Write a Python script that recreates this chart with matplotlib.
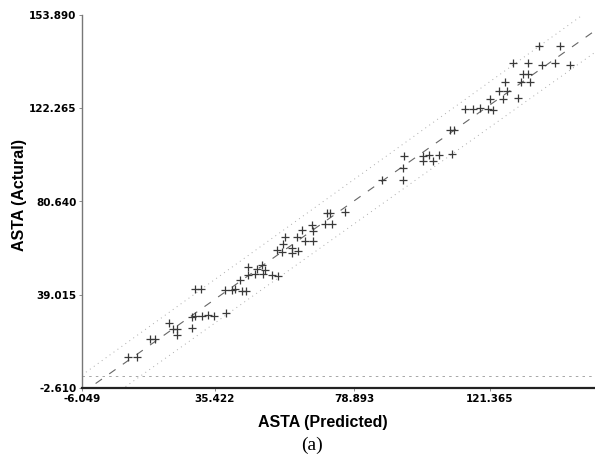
import numpy as np
import matplotlib
matplotlib.use("Agg")
import matplotlib.pyplot as plt

predicted = [8.41, 11.03, 15.19, 16.75, 21.12, 22.46, 23.53, 23.53, 28.21, 28.21,
             29.24, 31.33, 33.39, 35.27, 38.83, 29.24, 31.11, 38.61, 40.70, 41.73,
             43.83, 45.07, 43.29, 45.89, 48.51, 50.07, 51.10, 45.89, 47.98, 50.57,
             53.19, 55.26, 54.76, 56.32, 59.44, 59.44, 61.50, 56.82, 57.35, 61.00,
             62.56, 63.59, 66.19, 65.69, 66.19, 69.84, 71.40, 72.12, 76.09, 70.37,
             87.55, 94.11, 94.29, 94.51, 100.35, 100.54, 102.41, 103.66, 105.44, 109.41,
             108.88, 110.00, 113.56, 116.15, 118.25, 120.84, 122.40, 121.37, 125.52, 124.28,
             126.59, 130.02, 126.05, 131.05, 133.86, 131.77, 133.33, 128.46, 133.33, 137.52,
             141.67, 146.35, 136.77, 143.23]
actual = [11.33, 11.33, 19.07, 19.07, 26.46, 23.53, 23.53, 20.99, 23.97, 29.14,
          29.45, 29.45, 29.89, 29.45, 30.65, 41.78, 41.78, 41.33, 41.02, 41.78,
          40.71, 40.71, 45.79, 51.40, 50.68, 52.15, 50.24, 47.70, 48.15, 48.46,
          47.70, 47.26, 59.14, 58.08, 60.03, 57.63, 58.52, 61.50, 64.75, 64.75,
          68.05, 62.97, 62.97, 69.96, 67.43, 70.72, 75.44, 70.72, 75.89, 75.44,
          90.31, 90.31, 95.65, 101.13, 101.13, 98.59, 101.58, 98.59, 101.58, 101.89,
          112.57, 112.57, 121.92, 121.92, 122.37, 121.92, 121.48, 126.38, 126.38, 130.07,
          130.07, 126.64, 133.77, 133.77, 133.77, 137.51, 137.77, 142.67, 142.67, 141.51,
          142.67, 141.51, 150.11, 150.11]

# Fit line and prediction band (slope, intercept)
fit_line = (1.01, 1.2)
upper_band = (1.028, 9.4)
lower_band = (1.018, -9.7)
baseline_y = 2.7

x_ticks = [-6.049, 35.422, 78.893, 121.365]
x_tick_labels = ["-6.049", "35.422", "78.893", "121.365"]
y_ticks = [-2.610, 39.015, 80.640, 122.265, 163.890]
y_tick_labels = ["-2.610", "39.015", "80.640", "122.265", "153.890"]

xmin, xmax = -6.049, 154.16
ymin, ymax = -2.610, 163.890

fig = plt.figure(figsize=(5.95, 4.68), dpi=100)
ax = fig.add_axes([82/595, 80/468, 513/595, 373/468])
ax.set_xlim(xmin, xmax)
ax.set_ylim(ymin, ymax)

xs = np.array([xmin, xmax])
ax.plot(xs, fit_line[0]*xs + fit_line[1], color="#666666", lw=0.8,
        dashes=(7, 8))
ax.plot(xs, upper_band[0]*xs + upper_band[1], color="#aaaaaa", lw=0.7,
        dashes=(1, 4))
ax.plot(xs, lower_band[0]*xs + lower_band[1], color="#aaaaaa", lw=0.7,
        dashes=(1, 4))
ax.axhline(baseline_y, color="#999999", lw=0.6, dashes=(3, 5))

ax.plot(predicted, actual, linestyle="none", marker="+", markersize=5.5,
        markeredgewidth=0.9, color="#3a3a3a")

for s in ["top", "right"]:
    ax.spines[s].set_visible(False)
ax.spines["left"].set_color("#777777")
ax.spines["left"].set_linewidth(1.0)
ax.spines["bottom"].set_color("#222222")
ax.spines["bottom"].set_linewidth(1.6)

tick_font = dict(family=["Liberation Sans Narrow", "DejaVu Sans"], weight="bold", size=7.5)
ax.set_xticks(x_ticks)
ax.set_xticklabels(x_tick_labels, **tick_font)
ax.set_yticks(y_ticks)
ax.set_yticklabels(y_tick_labels, **tick_font)
ax.tick_params(axis="both", length=2, width=0.6, color="#777777", pad=2)

fig.text(323/595, 1 - 423/468, "ASTA (Predicted)", ha="center", va="center",
         family=["Liberation Sans", "DejaVu Sans"], weight="bold", size=11.5)
fig.text(20/595, 1 - 195/468, "ASTA (Actural)", ha="center", va="center",
         rotation=90, family=["Liberation Sans", "DejaVu Sans"], weight="bold", size=11.5)
fig.text(312/595, 1 - 445/468, "(a)", ha="center", va="center",
         family=["Liberation Serif", "DejaVu Serif"], size=14)

fig.savefig("out.png", dpi=100, facecolor="white")
